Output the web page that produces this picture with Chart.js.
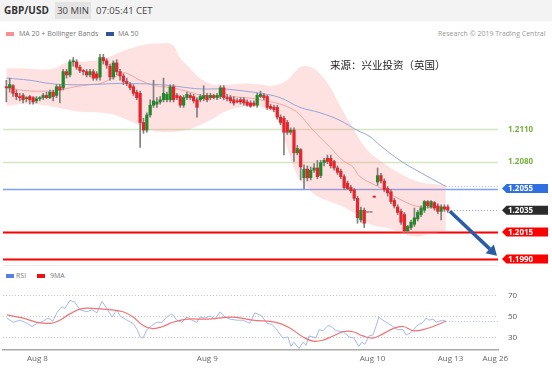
<!DOCTYPE html>
<html>
<head>
<meta charset="utf-8">
<script src="https://cdn.jsdelivr.net/npm/chart.js@4.4.0/dist/chart.umd.min.js"></script>
<style>
  body { margin: 0; width: 552px; height: 368px; background: #fff; position: relative; overflow: hidden; font-family: "Open Sans", sans-serif; }
  #hdr { position: absolute; left: 0; top: 0; width: 552px; height: 21px; background: #f3f3f3; }
  .abs { position: absolute; white-space: nowrap; }
  .sym { left: 4px; top: 3px; font-size: 10px; font-weight: bold; color: #333; }
  .tf { left: 55px; top: 2px; width: 36px; height: 17px; line-height: 17px; text-align: center; background: #e3e3e3; font-size: 9.5px; color: #444; }
  .tm { left: 96px; top: 4px; font-size: 9.5px; color: #444; }
  .leg { font-size: 7px; color: #777; }
  .sw { position: absolute; width: 8px; height: 4px; }
  #src { left: 330px; top: 57px; font-family: "Noto Sans CJK SC", sans-serif; font-size: 10.5px; color: #222; }
  #mainWrap { position: absolute; left: 0; top: 40px; width: 552px; height: 226px; }
  #rsiWrap { position: absolute; left: 0; top: 280px; width: 552px; height: 88px; }
</style>
</head>
<body>
<div id="hdr">
  <span class="abs sym">GBP/USD</span>
  <span class="abs tf">30 MIN</span>
  <span class="abs tm">07:05:41 CET</span>
</div>

<div class="sw" style="left:6px;top:32px;background:#f79191"></div>
<span class="abs leg" style="left:19px;top:29px">MA 20 + Bollinger Bands</span>
<div class="sw" style="left:106px;top:32px;background:#2f5597"></div>
<span class="abs leg" style="left:118px;top:29px">MA 50</span>
<span class="abs leg" style="left:438px;top:29px;color:#999">Research © 2019 Trading Central</span>

<div class="sw" style="left:6px;top:274px;background:#5b7fe0"></div>
<span class="abs leg" style="left:16px;top:271px">RSI</span>
<div class="sw" style="left:37px;top:274px;background:#ee1111"></div>
<span class="abs leg" style="left:50px;top:271px">9MA</span>

<div id="mainWrap"><canvas id="main"></canvas></div>
<div id="rsiWrap"><canvas id="rsi"></canvas></div>
<span id="src" class="abs">来源：兴业投资（英国）</span>

<script>
// 30 min candles, oldest first
const opens = [1.2149,1.2148,1.2150,1.2143,1.2140,1.2141,1.2138,1.2140,1.2139,1.2136,
  1.2138,1.2139,1.2141,1.2139,1.2144,1.2141,1.2149,1.2148,1.2163,1.2160,
  1.2172,1.2172,1.2167,1.2164,1.2163,1.2160,1.2163,1.2161,1.2158,1.2176,
  1.2173,1.2168,1.2158,1.2171,1.2163,1.2159,1.2154,1.2151,1.2149,1.2144,
  1.2143,1.2116,1.2109,1.2123,1.2132,1.2133,1.2135,1.2137,1.2137,1.2137,
  1.2149,1.2141,1.2140,1.2132,1.2139,1.2141,1.2140,1.2137,1.2137,1.2138,
  1.2141,1.2139,1.2141,1.2139,1.2140,1.2148,1.2139,1.2139,1.2137,1.2136,
  1.2137,1.2137,1.2135,1.2134,1.2134,1.2132,1.2140,1.2141,1.2140,1.2131,
  1.2130,1.2130,1.2121,1.2120,1.2116,1.2107,1.2109,1.2088,1.2091,1.2065,
  1.2073,1.2065,1.2072,1.2074,1.2067,1.2079,1.2083,1.2083,1.2080,1.2074,
  1.2071,1.2066,1.2060,1.2056,1.2054,1.2046,1.2026,1.2035,1.2033,1.2033,
  1.2048,1.2061,1.2067,1.2062,1.2055,1.2052,1.2044,1.2038,1.2034,1.2031,
  1.2016,1.2019,1.2022,1.2027,1.2031,1.2035,1.2043,1.2038,1.2042,1.2039,
  1.2034,1.2038,1.2038];
const closes = [1.2148,1.2151,1.2143,1.2140,1.2139,1.2137,1.2139,1.2137,1.2135,1.2138,
  1.2139,1.2141,1.2139,1.2144,1.2140,1.2149,1.2146,1.2163,1.2160,1.2172,
  1.2173,1.2167,1.2164,1.2163,1.2160,1.2163,1.2157,1.2157,1.2176,1.2173,
  1.2169,1.2158,1.2171,1.2163,1.2159,1.2154,1.2152,1.2148,1.2143,1.2139,
  1.2116,1.2109,1.2123,1.2132,1.2136,1.2135,1.2137,1.2143,1.2142,1.2149,
  1.2137,1.2139,1.2132,1.2139,1.2142,1.2139,1.2136,1.2130,1.2140,1.2141,
  1.2137,1.2141,1.2139,1.2141,1.2148,1.2139,1.2138,1.2136,1.2134,1.2135,
  1.2135,1.2134,1.2132,1.2131,1.2132,1.2141,1.2142,1.2139,1.2130,1.2129,
  1.2128,1.2121,1.2116,1.2107,1.2107,1.2109,1.2088,1.2092,1.2075,1.2073,
  1.2065,1.2072,1.2074,1.2066,1.2079,1.2081,1.2080,1.2076,1.2074,1.2070,
  1.2066,1.2056,1.2055,1.2053,1.2046,1.2028,1.2035,1.2023,1.2033,1.2033,
  1.2047,1.2067,1.2062,1.2054,1.2051,1.2043,1.2039,1.2033,1.2024,1.2016,
  1.2020,1.2024,1.2028,1.2033,1.2037,1.2043,1.2039,1.2043,1.2037,1.2034,
  1.2038,1.2036,1.2035];
const highs = [1.2155,1.2157,1.2151,1.2146,1.2143,1.2143,1.2140,1.2141,1.2140,1.2140,
  1.2140,1.2143,1.2144,1.2146,1.2146,1.2151,1.2151,1.2165,1.2165,1.2174,
  1.2176,1.2174,1.2169,1.2165,1.2165,1.2165,1.2165,1.2163,1.2179,1.2179,
  1.2175,1.2170,1.2173,1.2174,1.2165,1.2161,1.2157,1.2153,1.2151,1.2146,
  1.2145,1.2120,1.2125,1.2137,1.2155,1.2139,1.2140,1.2157,1.2144,1.2151,
  1.2151,1.2143,1.2141,1.2141,1.2144,1.2143,1.2142,1.2139,1.2142,1.2150,
  1.2143,1.2143,1.2142,1.2143,1.2150,1.2150,1.2142,1.2141,1.2140,1.2138,
  1.2139,1.2139,1.2137,1.2136,1.2136,1.2143,1.2145,1.2143,1.2141,1.2133,
  1.2132,1.2132,1.2123,1.2122,1.2118,1.2111,1.2111,1.2095,1.2092,1.2077,
  1.2076,1.2075,1.2078,1.2081,1.2081,1.2083,1.2086,1.2086,1.2081,1.2076,
  1.2073,1.2068,1.2062,1.2058,1.2055,1.2048,1.2038,1.2037,1.2034,1.2034,
  1.2048,1.2074,1.2069,1.2064,1.2057,1.2054,1.2046,1.2040,1.2036,1.2033,
  1.2021,1.2026,1.2037,1.2035,1.2039,1.2044,1.2044,1.2044,1.2043,1.2041,
  1.2040,1.2040,1.2040];
const lows = [1.2135,1.2144,1.2140,1.2137,1.2136,1.2134,1.2135,1.2133,1.2133,1.2134,
  1.2136,1.2137,1.2138,1.2138,1.2136,1.2139,1.2134,1.2146,1.2157,1.2158,
  1.2168,1.2165,1.2162,1.2160,1.2158,1.2158,1.2155,1.2155,1.2155,1.2170,
  1.2166,1.2155,1.2156,1.2160,1.2155,1.2151,1.2150,1.2146,1.2141,1.2137,
  1.2093,1.2106,1.2107,1.2121,1.2130,1.2130,1.2133,1.2135,1.2135,1.2135,
  1.2135,1.2137,1.2130,1.2130,1.2137,1.2137,1.2134,1.2121,1.2135,1.2136,
  1.2135,1.2137,1.2138,1.2137,1.2138,1.2137,1.2136,1.2134,1.2132,1.2134,
  1.2133,1.2132,1.2131,1.2130,1.2131,1.2130,1.2139,1.2137,1.2128,1.2128,
  1.2126,1.2119,1.2114,1.2086,1.2105,1.2105,1.2080,1.2086,1.2063,1.2055,
  1.2062,1.2063,1.2070,1.2064,1.2065,1.2076,1.2078,1.2074,1.2072,1.2068,
  1.2064,1.2054,1.2054,1.2051,1.2044,1.2023,1.2024,1.2019,1.2033,1.2033,
  1.2047,1.2058,1.2060,1.2052,1.2048,1.2041,1.2037,1.2031,1.2022,1.2014,
  1.2014,1.2017,1.2020,1.2025,1.2029,1.2033,1.2037,1.2037,1.2035,1.2032,
  1.2026,1.2034,1.2033];

// Bollinger bands and moving averages (candle index, price)
const upperIdx = [0,4.1,10.1,14.5,17.5,22,28,31,34,37.9,41.5,45.9,49.5,51.9,54.9,57.9,61.8,66.9,71.9,75.8,79.7,83.9,86.9,88.7,91.7,95.9,99.7,103.6,107.8,111.7,117.7,123.7,131.4];
const bandUpper = [1.2166,1.2166,1.2165,1.2166,1.2171,1.2172,1.2174,1.2177,1.2181,1.2185,1.2188,1.2189,1.2188,1.2176,1.2166,1.2157,1.2151,1.2151,1.2152,1.2151,1.2150,1.2155,1.2165,1.2168,1.2166,1.2153,1.2132,1.2111,1.2091,1.2081,1.2069,1.2061,1.2058];
const lowerIdx = [0,4.1,8,13,18.1,22,31,37.9,42.9,47.4,51.9,55.8,60.9,65.4,69.9,73.7,77.3,80.3,83.9,86.9,89.9,92.9,96.8,102.7,108.7,114.7,121.6,126.7,131.4];
const bandLower = [1.2131,1.2133,1.2133,1.2131,1.2128,1.2126,1.2124,1.2116,1.2109,1.2107,1.2108,1.2111,1.2118,1.2126,1.2130,1.2132,1.2129,1.2123,1.2093,1.2068,1.2056,1.2048,1.2043,1.2035,1.2022,1.2018,1.2011,1.2013,1.2016];
const ma20Idx = [0,4.1,8,13,16,20.5,25,28,32.5,34.9,37.6,40,44.4,49.8,54.9,58.8,65.4,71.3,75.8,81.8,85.7,87.8,91.7,96.8,100.6,103.6,105.7,111.7,117.7,123.7,131.4];
const ma20 = [1.2148,1.2146,1.2145,1.2145,1.2146,1.2149,1.2151,1.2152,1.2158,1.2162,1.2159,1.2155,1.2150,1.2148,1.2144,1.2141,1.2140,1.2139,1.2137,1.2133,1.2128,1.2123,1.2109,1.2093,1.2081,1.2075,1.2066,1.2056,1.2045,1.2038,1.2038];
const ma50Idx = [0,7.1,13,18.1,25,32.5,37.9,45.9,51.9,57.9,64.8,71.3,75.8,81.8,87.8,93.8,99.7,104.8,108.7,111.7,117.7,123.7,131.4];
const ma50 = [1.2157,1.2155,1.2152,1.2151,1.2151,1.2152,1.2152,1.2151,1.2149,1.2147,1.2147,1.2145,1.2143,1.2139,1.2130,1.2125,1.2118,1.2109,1.2103,1.2095,1.2081,1.2070,1.2057];

// RSI panel
const rsiIdx = [0.2,2,4.1,6.2,7.7,9.2,11,12.5,13.9,15.1,16.6,17.5,19,20.5,22,24.1,25.6,27.1,28.6,30.1,31.6,33.1,34,36.1,37.9,39.1,40,40.9,42,43.5,45,46.5,48,49.5,51,52.5,54,55.5,57,57.9,59.4,60.9,62.4,63.9,65.4,66.9,68.9,70.8,72.8,74.3,76.4,77.9,79.4,80.6,82.7,84.2,85.1,86,87.5,88.7,89.6,90.5,91.7,92.6,93.5,94.7,96.2,97.1,98.6,100.7,102.5,103.9,105.4,106.3,107.2,108.4,109.6,110.5,111.4,112.6,114.1,115.6,117.1,118.6,119.5,120.4,121.6,122.5,123.4,124.6,125.5,126.4,127.6,128.5,129.4,130.5,131.4];
const rsiVals = [48,44,46,43,40,43,45,48,45,53,59,57,65,63,56,54,56,53,64,57,49,56,50,46,43,37,30,29,37,41,44,44,49,52,46,44,49,46,44,49,48,50,47,54,49,47,46,46,43,53,50,43,42,38,29,30,21,25,19,25,22,31,30,29,37,36,41,40,36,35,30,29,21,25,23,31,32,40,49,46,43,40,37,37,32,33,36,40,42,44,48,46,47,44,45,46,45];
const ma9Idx = [0.2,5,9.2,13,15.4,19,22.6,27.1,31,34.9,37.9,40.9,43.8,46.8,49.8,54,60,67.8,73.7,80.6,84.5,88.7,91.7,94.7,97.7,100.7,103.6,106.6,109.6,112.6,115.6,118.6,121.6,124.6,127.6,131.4];
const ma9Vals = [51,48,44,43,45,52,57,57,56,54,49,41,38,40,44,47,47,49,46,44,39,30,26,27,31,35,35,31,29,33,38,40,36,37,40,45];
const rsiLevels = [30, 50, 70];

// x axis
const tickPos = [9.3, 60.1, 109.5, 132.8, 146.2];
const tickLabels = ['Aug 8', 'Aug 9', 'Aug 10', 'Aug 13', 'Aug 26'];

// key levels and the projection arrow
const levelPrices = [1.2110, 1.2080, 1.2055, 1.2035, 1.2015, 1.1990];
const levelLabels = ['1.2110', '1.2080', '1.2055', '1.2035', '1.2015', '1.1990'];
const arrowFrom = [132.6, 1.2034];
const arrowTo = [146.7, 1.1993];

const levelStyles = [
  { line: '#d2e7c2', width: 1.5, text: '#76b041' },
  { line: '#d2e7c2', width: 1.5, text: '#76b041' },
  { line: '#7f9ef0', width: 1.5, tag: '#2f6fe2' },
  { line: '#9a9a9a', width: 1, dash: [1, 2], fromLast: true, tag: '#2b2b2b' },
  { line: '#ff0000', width: 2, tag: '#ff0000' },
  { line: '#ff0000', width: 2, tag: '#ff0000' }
];

Chart.defaults.font.family = '"Open Sans", sans-serif';

const pts = (xs, ys) => xs.map((x, i) => ({ x: x, y: ys[i] }));
const lastIdx = opens.length - 1;

const bodies = opens.map((o, i) => ({ x: i, y: [o, closes[i]] }));
const wicks = lows.map((l, i) => ({ x: i, y: [l, highs[i]] }));
const bodyColors = opens.map((o, i) => closes[i] === o ? '#9a9a9a' : (closes[i] > o ? '#24882a' : '#e4262c'));

const levelsPlugin = {
  id: 'levels',
  beforeDatasetsDraw(chart) {
    const { ctx, chartArea: a, scales: { x, y } } = chart;
    ctx.save();
    levelPrices.forEach((p, i) => {
      const st = levelStyles[i];
      const py = Math.round(y.getPixelForValue(p)) + 0.5;
      const x0 = st.fromLast ? x.getPixelForValue(lastIdx) + 3 : a.left;
      ctx.strokeStyle = st.line;
      ctx.lineWidth = st.width;
      ctx.setLineDash(st.dash || []);
      ctx.beginPath();
      ctx.moveTo(x0, py);
      ctx.lineTo(a.right, py);
      ctx.stroke();
    });
    // MA 50 projection
    const my = Math.round(y.getPixelForValue(ma50[ma50.length - 1])) + 0.5;
    ctx.strokeStyle = '#a9bbe6';
    ctx.lineWidth = 1;
    ctx.setLineDash([1, 2]);
    ctx.beginPath();
    ctx.moveTo(x.getPixelForValue(ma50Idx[ma50Idx.length - 1]), my);
    ctx.lineTo(a.right, my);
    ctx.stroke();
    // bottom separator
    ctx.setLineDash([]);
    ctx.strokeStyle = '#ececec';
    ctx.beginPath();
    ctx.moveTo(a.left, a.bottom - 0.5);
    ctx.lineTo(a.right, a.bottom - 0.5);
    ctx.stroke();
    ctx.restore();
  },
  afterDraw(chart) {
    const { ctx, chartArea: a, scales: { x, y } } = chart;
    ctx.save();
    // arrow
    const x1 = x.getPixelForValue(arrowFrom[0]), y1 = y.getPixelForValue(arrowFrom[1]);
    const x2 = x.getPixelForValue(arrowTo[0]), y2 = y.getPixelForValue(arrowTo[1]);
    const ang = Math.atan2(y2 - y1, x2 - x1);
    const hl = 10, hw = 6;
    const bx = x2 - hl * Math.cos(ang), by = y2 - hl * Math.sin(ang);
    ctx.strokeStyle = '#2a5ba6';
    ctx.fillStyle = '#2a5ba6';
    ctx.lineWidth = 3.5;
    ctx.beginPath();
    ctx.moveTo(x1, y1);
    ctx.lineTo(bx, by);
    ctx.stroke();
    ctx.beginPath();
    ctx.moveTo(x2, y2);
    ctx.lineTo(bx + hw * Math.sin(ang), by - hw * Math.cos(ang));
    ctx.lineTo(bx - hw * Math.sin(ang), by + hw * Math.cos(ang));
    ctx.closePath();
    ctx.fill();

    // price tags
    ctx.textBaseline = 'middle';
    ctx.textAlign = 'left';
    levelPrices.forEach((p, i) => {
      const st = levelStyles[i];
      const py = y.getPixelForValue(p);
      const left = a.right + 4, right = 548, h = 4.5;
      if (st.tag) {
        ctx.fillStyle = st.tag;
        ctx.beginPath();
        ctx.moveTo(left, py);
        ctx.lineTo(left + 4.5, py - h);
        ctx.lineTo(right, py - h);
        ctx.lineTo(right, py + h);
        ctx.lineTo(left + 4.5, py + h);
        ctx.closePath();
        ctx.fill();
        ctx.fillStyle = '#fff';
      } else {
        ctx.fillStyle = st.text;
      }
      ctx.font = 'bold 8px "Open Sans", sans-serif';
      ctx.fillText(levelLabels[i], 508, py + 0.5);
    });
    ctx.restore();
  }
};

new Chart(document.getElementById('main'), {
  type: 'bar',
  data: {
    datasets: [
      { type: 'line', data: pts(upperIdx, bandUpper), borderColor: 'rgba(0,0,0,0)', backgroundColor: 'rgba(250,140,140,0.26)',
        fill: '+1', pointRadius: 0, tension: 0.4, order: 5 },
      { type: 'line', data: pts(lowerIdx, bandLower), borderColor: 'rgba(0,0,0,0)', fill: false, pointRadius: 0, tension: 0.4, order: 4 },
      { type: 'line', data: pts(ma20Idx, ma20), borderColor: '#f4a3a3', borderWidth: 1, fill: false, pointRadius: 0, tension: 0.4, order: 3 },
      { type: 'line', data: pts(ma50Idx, ma50), borderColor: '#93a6d8', borderWidth: 1, fill: false, pointRadius: 0, tension: 0.4, order: 2 },
      { type: 'bar', data: wicks, backgroundColor: '#808080', barThickness: 1, grouped: false, order: 1 },
      { type: 'bar', data: bodies, backgroundColor: bodyColors, barThickness: 2.6, grouped: false, minBarLength: 1, order: 0 }
    ]
  },
  options: {
    responsive: true,
    maintainAspectRatio: false,
    animation: false,
    events: [],
    layout: { padding: { left: 3, right: 54, top: 0, bottom: 0 } },
    plugins: { legend: { display: false }, tooltip: { enabled: false } },
    scales: {
      x: { type: 'linear', min: -1, max: 147, offset: false, display: false },
      y: { type: 'linear', min: 1.19835, max: 1.21922, display: false }
    }
  },
  plugins: [levelsPlugin]
});

// RSI guide lines, their labels and the RSI projection
const rsiPlugin = {
  id: 'rsiGuides',
  beforeDatasetsDraw(chart) {
    const { ctx, chartArea: a, scales: { y } } = chart;
    ctx.save();
    ctx.strokeStyle = '#c4c4c4';
    ctx.lineWidth = 1;
    ctx.setLineDash([1, 2]);
    ctx.fillStyle = '#555';
    ctx.font = '8px "Open Sans", sans-serif';
    ctx.textBaseline = 'middle';
    ctx.textAlign = 'left';
    rsiLevels.forEach(v => {
      const py = Math.round(y.getPixelForValue(v)) + 0.5;
      ctx.beginPath();
      ctx.moveTo(a.left, py);
      ctx.lineTo(a.right, py);
      ctx.stroke();
      ctx.fillText(String(v), 508, py);
    });
    ctx.restore();
  },
  afterDatasetsDraw(chart) {
    const { ctx, chartArea: a, scales: { x, y } } = chart;
    const py = Math.round(y.getPixelForValue(rsiVals[rsiVals.length - 1])) + 0.5;
    ctx.save();
    ctx.strokeStyle = '#a9bbf2';
    ctx.lineWidth = 1;
    ctx.setLineDash([1, 2]);
    ctx.beginPath();
    ctx.moveTo(x.getPixelForValue(rsiIdx[rsiIdx.length - 1]), py);
    ctx.lineTo(a.right, py);
    ctx.stroke();
    ctx.restore();
  }
};

new Chart(document.getElementById('rsi'), {
  type: 'line',
  data: {
    datasets: [
      { data: pts(ma9Idx, ma9Vals), borderColor: '#f27272', borderWidth: 1.2, pointRadius: 0, tension: 0.4, fill: false },
      { data: pts(rsiIdx, rsiVals), borderColor: '#a4b8f2', borderWidth: 1, pointRadius: 0, tension: 0, fill: false }
    ]
  },
  options: {
    responsive: true,
    maintainAspectRatio: false,
    animation: false,
    events: [],
    layout: { padding: { left: 3, right: 54, top: 0, bottom: 0 } },
    plugins: { legend: { display: false }, tooltip: { enabled: false } },
    scales: {
      x: {
        type: 'linear', min: -1, max: 147, offset: false,
        afterBuildTicks: (axis) => { axis.ticks = tickPos.map(v => ({ value: v })); },
        afterFit: (scale) => { scale.height = 18; },
        ticks: { autoSkip: false, maxRotation: 0, padding: 4, color: '#666', font: { size: 8 },
          callback: (v, i) => tickLabels[i] },
        grid: { display: false, drawTicks: false },
        border: { display: true, color: '#aaaaaa', width: 1.5 }
      },
      y: { type: 'linear', min: 17.6, max: 84.3, display: false }
    }
  },
  plugins: [rsiPlugin]
});
</script>
</body>
</html>
